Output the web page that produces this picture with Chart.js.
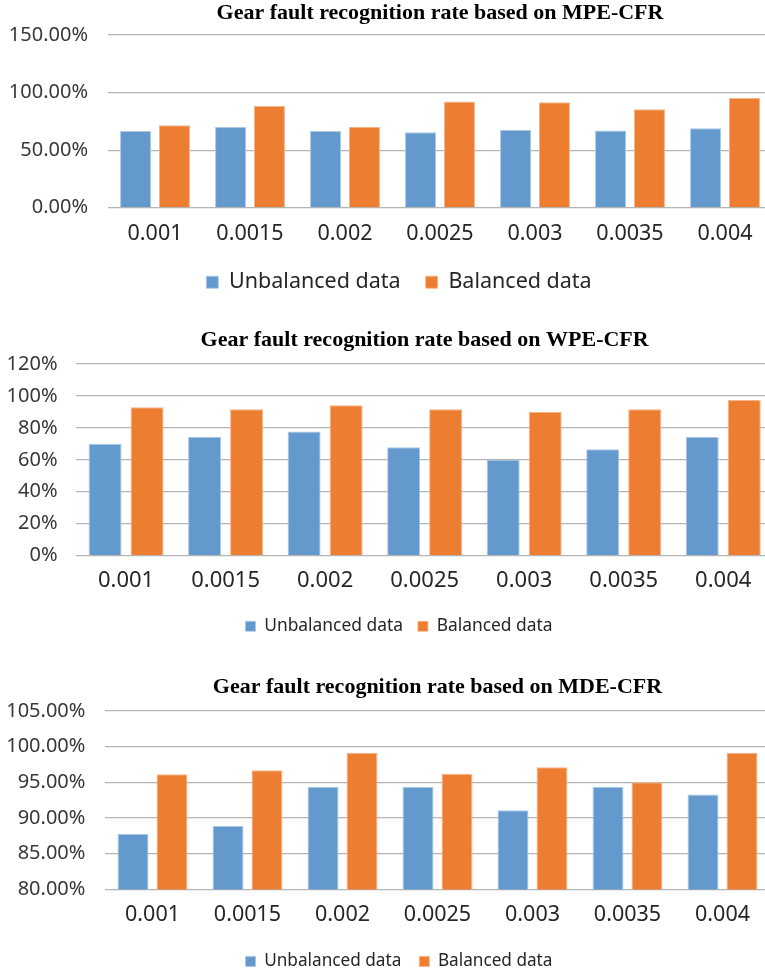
<!DOCTYPE html>
<html>
<head>
<meta charset="utf-8">
<script src="https://cdn.jsdelivr.net/npm/chart.js@4/dist/chart.umd.min.js"></script>
<style>
    html, body { margin: 0; padding: 0; background: #fff; overflow: hidden; width: 765px; height: 972px; }
    .box { position: absolute; left: 0; width: 798px; }
</style>
</head>
<body>
<div class="box" id="box-mpe" style="top:0px;height:303px"><canvas id="chart-mpe"></canvas></div>
<div class="box" id="box-wpe" style="top:320px;height:325px"><canvas id="chart-wpe"></canvas></div>
<div class="box" id="box-mde" style="top:655px;height:325px"><canvas id="chart-mde"></canvas></div>
<script>
// Step sizes (x axis categories)
const categories = ['0.001', '0.0015', '0.002', '0.0025', '0.003', '0.0035', '0.004'];
const seriesNames = ['Unbalanced data', 'Balanced data'];

// MPE-CFR recognition rate (%)
const mpeUnbalanced = [66.7, 70.1, 66.7, 65.5, 67.8, 67.0, 69.0];
const mpeBalanced = [71.6, 88.4, 70.4, 92.2, 91.6, 85.5, 95.4];
const mpeTicks = [0, 50, 100, 150];

// WPE-CFR recognition rate (%)
const wpeUnbalanced = [70.0, 74.3, 77.7, 67.8, 60.0, 66.6, 74.3];
const wpeBalanced = [92.9, 91.6, 94.2, 91.6, 90.0, 91.6, 97.5];
const wpeTicks = [0, 20, 40, 60, 80, 100, 120];

// MDE-CFR recognition rate (%)
const mdeUnbalanced = [87.75, 88.9, 94.4, 94.4, 91.1, 94.4, 93.3];
const mdeBalanced = [96.15, 96.7, 99.15, 96.2, 97.1, 95.0, 99.15];
const mdeTicks = [80, 85, 90, 95, 100, 105];

const BLUE = '#6399cd';
const ORANGE = '#ed7d31';
const GRID = '#b5b5b5';

const makeChart = (id, cfg) => {
    new Chart(document.getElementById(id), {
        type: 'bar',
        data: {
            labels: categories,
            datasets: [
                { label: seriesNames[0], data: cfg.unbalanced, backgroundColor: BLUE, borderColor: '#a9c8e6', borderWidth: { top: 1, left: 1, right: 1, bottom: 0 }, borderSkipped: 'bottom' },
                { label: seriesNames[1], data: cfg.balanced, backgroundColor: ORANGE, borderColor: '#f5b48a', borderWidth: { top: 1, left: 1, right: 1, bottom: 0 }, borderSkipped: 'bottom' }
            ]
        },
        options: {
            responsive: true,
            maintainAspectRatio: false,
            animation: false,
            datasets: { bar: { categoryPercentage: cfg.catPct, barPercentage: cfg.barPct } },
            layout: { padding: 0 },
            plugins: {
                tooltip: { enabled: false },
                title: {
                    display: true,
                    text: cfg.title,
                    fullSize: false,
                    color: '#000',
                    font: { family: 'Liberation Serif', size: 22, weight: 'bold' },
                    padding: { top: cfg.titleTop, bottom: cfg.titleBottom }
                },
                legend: {
                    position: 'bottom',
                    labels: {
                        color: '#262626',
                        font: { family: 'Noto Sans', size: cfg.legendSize },
                        boxWidth: cfg.legendBox,
                        boxHeight: cfg.legendBox,
                        padding: cfg.legendPad
                    }
                }
            },
            scales: {
                x: {
                    grid: { display: false, drawTicks: false },
                    border: { display: false },
                    ticks: { color: '#262626', font: { family: 'Noto Sans', size: cfg.xSize }, padding: cfg.xPad, maxRotation: 0 },
                    afterFit: (a) => { a.height = cfg.xHeight; }
                },
                y: {
                    min: cfg.ticks[0],
                    max: cfg.ticks[cfg.ticks.length - 1],
                    grid: { color: GRID, lineWidth: 1.2, drawTicks: false },
                    border: { display: false },
                    ticks: {
                        color: '#383838',
                        font: { family: 'Noto Sans', size: 20 },
                        padding: cfg.yPad,
                        callback: (v) => cfg.fmt(v)
                    },
                    afterBuildTicks: (a) => { a.ticks = cfg.ticks.map(v => ({ value: v })); },
                    afterFit: (a) => { a.width = cfg.left; }
                },
                // spacer on the right so the plot area runs past the page edge like the original
                spacer: {
                    type: 'linear',
                    position: 'right',
                    grid: { display: false, drawTicks: false },
                    border: { display: false },
                    ticks: { display: false },
                    afterFit: (a) => { a.width = cfg.right; }
                }
            }
        }
    });
};

makeChart('chart-mpe', {
    title: 'Gear fault recognition rate based on MPE-CFR',
    unbalanced: mpeUnbalanced, balanced: mpeBalanced, ticks: mpeTicks,
    fmt: (v) => v.toFixed(2) + '%',
    catPct: 0.82, barPct: 0.795,
    titleTop: 0, titleBottom: 8.6,
    left: 107.5, right: 25.5, yPad: 19.5,
    xSize: 21.5, xPad: 13.4, xHeight: 38.75,
    legendSize: 21.5, legendBox: 12, legendPad: 25
});

makeChart('chart-wpe', {
    title: 'Gear fault recognition rate based on WPE-CFR',
    unbalanced: wpeUnbalanced, balanced: wpeBalanced, ticks: wpeTicks,
    fmt: (v) => v + '%',
    catPct: 0.844, barPct: 0.786,
    titleTop: 6.8, titleBottom: 10.8,
    left: 76.3, right: 25, yPad: 18.8,
    xSize: 22, xPad: 11.8, xHeight: 47,
    legendSize: 17.4, legendBox: 10, legendPad: 15
});

makeChart('chart-mde', {
    title: 'Gear fault recognition rate based on MDE-CFR',
    unbalanced: mdeUnbalanced, balanced: mdeBalanced, ticks: mdeTicks,
    fmt: (v) => v.toFixed(2) + '%',
    catPct: 0.82, barPct: 0.795,
    titleTop: 18.8, titleBottom: 10.8,
    left: 105, right: 28, yPad: 19.6,
    xSize: 21.5, xPad: 12.6, xHeight: 45.4,
    legendSize: 17.2, legendBox: 10, legendPad: 18
});
</script>
</body>
</html>
